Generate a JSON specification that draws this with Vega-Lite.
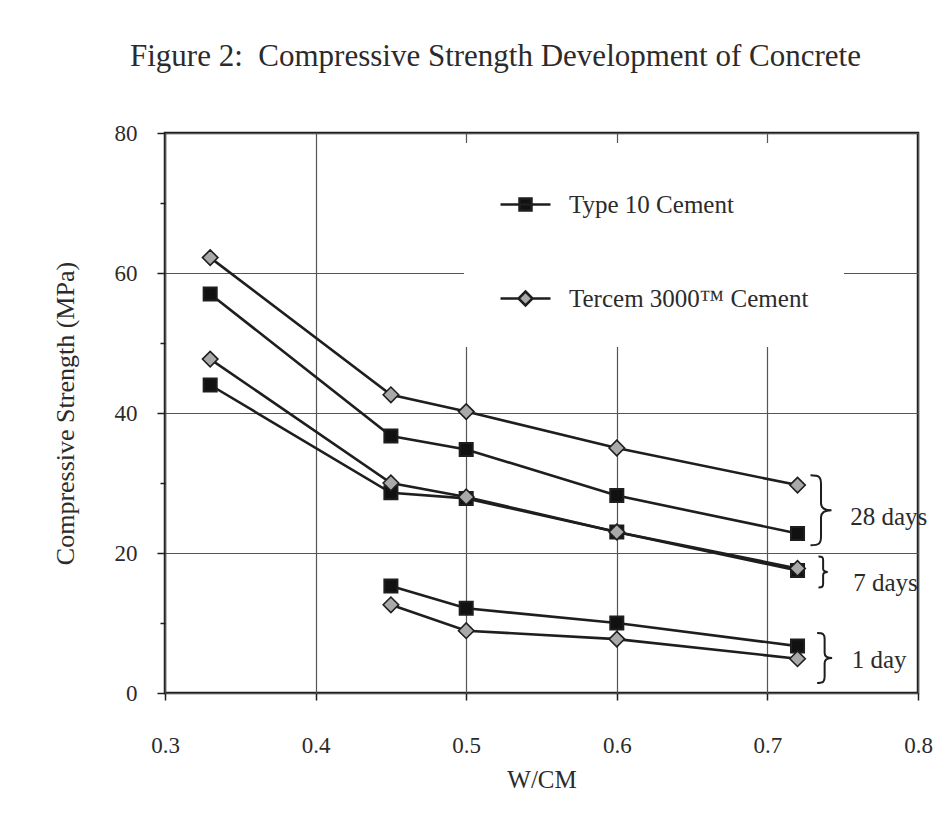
{
  "$schema": "https://vega.github.io/schema/vega-lite/v6.json",
  "width": 753,
  "height": 560,
  "autosize": {"type": "none"},
  "padding": {"left": 165, "top": 133, "right": 33, "bottom": 133},
  "background": "white",
  "title": {
    "text": "Figure 2:\u00a0 Compressive Strength Development of Concrete",
    "anchor": "start",
    "frame": "group",
    "dx": -35,
    "offset": 49,
    "fontSize": 31,
    "font": "Liberation Serif",
    "fontWeight": "normal",
    "color": "#2b2b2b"
  },
  "config": {
    "font": "Liberation Serif",
    "view": {"stroke": "#1e1e1e", "strokeWidth": 2.5},
    "axis": {
      "domain": false,
      "grid": true,
      "gridColor": "#555555",
      "gridWidth": 1.2,
      "tickColor": "#1e1e1e",
      "tickWidth": 1.5,
      "labelFont": "Liberation Serif",
      "labelFontSize": 23,
      "labelColor": "#2b2b2b",
      "titleFont": "Liberation Serif",
      "titleFontWeight": "normal",
      "titleColor": "#2b2b2b"
    },
    "legend": {
      "orient": "none",
      "fillColor": "white",
      "padding": 35,
      "labelFontSize": 25,
      "labelFont": "Liberation Serif",
      "labelColor": "#2b2b2b",
      "labelOffset": 17,
      "labelLimit": 500,
      "symbolSize": 2500,
      "symbolStrokeColor": "#1e1e1e",
      "symbolStrokeWidth": 2.5
    }
  },
  "resolve": {"scale": {"fill": "independent"}, "legend": {"fill": "independent"}},
  "datasets": {
    "strength": [
      {"wcm": 0.33, "mpa": 57.0, "cement": "Type 10 Cement", "age": "28 days"},
      {"wcm": 0.45, "mpa": 36.7, "cement": "Type 10 Cement", "age": "28 days"},
      {"wcm": 0.5, "mpa": 34.8, "cement": "Type 10 Cement", "age": "28 days"},
      {"wcm": 0.6, "mpa": 28.2, "cement": "Type 10 Cement", "age": "28 days"},
      {"wcm": 0.72, "mpa": 22.8, "cement": "Type 10 Cement", "age": "28 days"},
      {"wcm": 0.33, "mpa": 44.0, "cement": "Type 10 Cement", "age": "7 days"},
      {"wcm": 0.45, "mpa": 28.6, "cement": "Type 10 Cement", "age": "7 days"},
      {"wcm": 0.5, "mpa": 27.8, "cement": "Type 10 Cement", "age": "7 days"},
      {"wcm": 0.6, "mpa": 23.0, "cement": "Type 10 Cement", "age": "7 days"},
      {"wcm": 0.72, "mpa": 17.5, "cement": "Type 10 Cement", "age": "7 days"},
      {"wcm": 0.45, "mpa": 15.3, "cement": "Type 10 Cement", "age": "1 day"},
      {"wcm": 0.5, "mpa": 12.1, "cement": "Type 10 Cement", "age": "1 day"},
      {"wcm": 0.6, "mpa": 10.0, "cement": "Type 10 Cement", "age": "1 day"},
      {"wcm": 0.72, "mpa": 6.7, "cement": "Type 10 Cement", "age": "1 day"},
      {"wcm": 0.33, "mpa": 62.2, "cement": "Tercem 3000™ Cement", "age": "28 days"},
      {"wcm": 0.45, "mpa": 42.6, "cement": "Tercem 3000™ Cement", "age": "28 days"},
      {"wcm": 0.5, "mpa": 40.2, "cement": "Tercem 3000™ Cement", "age": "28 days"},
      {"wcm": 0.6, "mpa": 35.0, "cement": "Tercem 3000™ Cement", "age": "28 days"},
      {"wcm": 0.72, "mpa": 29.7, "cement": "Tercem 3000™ Cement", "age": "28 days"},
      {"wcm": 0.33, "mpa": 47.7, "cement": "Tercem 3000™ Cement", "age": "7 days"},
      {"wcm": 0.45, "mpa": 30.0, "cement": "Tercem 3000™ Cement", "age": "7 days"},
      {"wcm": 0.5, "mpa": 28.0, "cement": "Tercem 3000™ Cement", "age": "7 days"},
      {"wcm": 0.6, "mpa": 23.0, "cement": "Tercem 3000™ Cement", "age": "7 days"},
      {"wcm": 0.72, "mpa": 17.8, "cement": "Tercem 3000™ Cement", "age": "7 days"},
      {"wcm": 0.45, "mpa": 12.6, "cement": "Tercem 3000™ Cement", "age": "1 day"},
      {"wcm": 0.5, "mpa": 8.9, "cement": "Tercem 3000™ Cement", "age": "1 day"},
      {"wcm": 0.6, "mpa": 7.7, "cement": "Tercem 3000™ Cement", "age": "1 day"},
      {"wcm": 0.72, "mpa": 4.9, "cement": "Tercem 3000™ Cement", "age": "1 day"}
    ],
    "groups": [
      {"age": "28 days", "bx": 0.7356, "by": 26.1, "lx": 0.755, "ly": 25.1},
      {"age": "7 days", "bx": 0.737, "by": 17.3, "lx": 0.757, "ly": 15.7},
      {"age": "1 day", "bx": 0.738, "by": 5.0, "lx": 0.756, "ly": 4.7}
    ]
  },
  "layer": [
    {
      "data": {"name": "strength"},
      "mark": {"type": "line", "color": "#1e1e1e", "strokeWidth": 2.6},
      "encoding": {
        "x": {
          "field": "wcm", "type": "quantitative",
          "scale": {"domain": [0.3, 0.8], "nice": false, "zero": false},
          "axis": {
            "values": [0.3, 0.4, 0.5, 0.6, 0.7, 0.8],
            "format": ".1f",
            "title": "W/CM",
            "titleFontSize": 25,
            "labelFlush": false,
            "tickSize": 7,
            "labelPadding": 34,
            "titlePadding": 10
          }
        },
        "y": {
          "field": "mpa", "type": "quantitative",
          "scale": {"domain": [0, 80], "nice": false},
          "axis": {
            "values": [0, 10, 20, 30, 40, 50, 60, 70, 80],
            "labelExpr": "datum.value % 20 === 0 ? datum.label : ''",
            "gridOpacity": {"condition": {"test": "datum.value % 20 !== 0", "value": 0}, "value": 1},
            "tickSize": {"condition": {"test": "datum.value % 20 !== 0", "value": 5}, "value": 8},
            "title": "Compressive Strength (MPa)",
            "titleFontSize": 26,
            "labelPadding": 20,
            "titlePadding": 36
          }
        },
        "detail": [{"field": "cement"}, {"field": "age"}]
      }
    },
    {
      "data": {"name": "strength"},
      "transform": [{"filter": "datum.cement === 'Type 10 Cement'"}],
      "mark": {"type": "point", "shape": "square", "filled": true, "stroke": "#1e1e1e", "strokeWidth": 2, "size": 170, "opacity": 1},
      "encoding": {
        "x": {"field": "wcm", "type": "quantitative"},
        "y": {"field": "mpa", "type": "quantitative"},
        "fill": {
          "field": "cement", "type": "nominal",
          "scale": {"domain": ["Type 10 Cement"], "range": ["#111111"]},
          "legend": {
            "title": null,
            "legendX": 299, "legendY": 10,
            "labelExpr": "datum.label + '\u00a0\u00a0\u00a0\u00a0\u00a0\u00a0\u00a0\u00a0\u00a0\u00a0\u00a0\u00a0\u00a0\u00a0\u00a0\u00a0\u00a0\u00a0\u00a0\u00a0\u00a0'",
            "symbolType": "M-1,0H1M-0.24,-0.24H0.24V0.24H-0.24Z"
          }
        }
      }
    },
    {
      "data": {"name": "strength"},
      "transform": [{"filter": "datum.cement === 'Tercem 3000™ Cement'"}],
      "mark": {"type": "point", "shape": "diamond", "filled": true, "stroke": "#1e1e1e", "strokeWidth": 1.6, "size": 240, "opacity": 1},
      "encoding": {
        "x": {"field": "wcm", "type": "quantitative"},
        "y": {"field": "mpa", "type": "quantitative"},
        "fill": {
          "field": "cement", "type": "nominal",
          "scale": {"domain": ["Tercem 3000™ Cement"], "range": ["#a9a9a9"]},
          "legend": {
            "title": null,
            "legendX": 299, "legendY": 104,
            "labelExpr": "datum.label + '\u00a0\u00a0\u00a0\u00a0\u00a0\u00a0\u00a0\u00a0\u00a0'",
            "symbolType": "M-1,0H-0.28M0.28,0H1M0,-0.28L0.28,0L0,0.28L-0.28,0Z"
          }
        }
      }
    },
    {
      "data": {"name": "groups"},
      "transform": [{"filter": "datum.age === '28 days'"}],
      "mark": {"type": "point", "filled": false, "clip": false, "stroke": "#1e1e1e", "strokeWidth": 2, "opacity": 1,
        "shape": "M-0.3,-1C-0.05,-1 0,-0.95 0,-0.75L0,-0.2C0,-0.05 0.1,0 0.3,0C0.1,0 0,0.05 0,0.2L0,0.75C0,0.95 -0.05,1 -0.3,1",
        "size": 4900},
      "encoding": {
        "x": {"field": "bx", "type": "quantitative"},
        "y": {"field": "by", "type": "quantitative"}
      }
    },
    {
      "data": {"name": "groups"},
      "transform": [{"filter": "datum.age === '7 days'"}],
      "mark": {"type": "point", "filled": false, "clip": false, "stroke": "#1e1e1e", "strokeWidth": 2, "opacity": 1,
        "shape": "M-0.3,-1C-0.05,-1 0,-0.95 0,-0.75L0,-0.2C0,-0.05 0.1,0 0.3,0C0.1,0 0,0.05 0,0.2L0,0.75C0,0.95 -0.05,1 -0.3,1",
        "size": 961},
      "encoding": {
        "x": {"field": "bx", "type": "quantitative"},
        "y": {"field": "by", "type": "quantitative"}
      }
    },
    {
      "data": {"name": "groups"},
      "transform": [{"filter": "datum.age === '1 day'"}],
      "mark": {"type": "point", "filled": false, "clip": false, "stroke": "#1e1e1e", "strokeWidth": 2, "opacity": 1,
        "shape": "M-0.3,-1C-0.05,-1 0,-0.95 0,-0.75L0,-0.2C0,-0.05 0.1,0 0.3,0C0.1,0 0,0.05 0,0.2L0,0.75C0,0.95 -0.05,1 -0.3,1",
        "size": 2500},
      "encoding": {
        "x": {"field": "bx", "type": "quantitative"},
        "y": {"field": "by", "type": "quantitative"}
      }
    },
    {
      "data": {"name": "groups"},
      "mark": {"type": "text", "align": "left", "baseline": "middle", "clip": false, "fontSize": 25, "font": "Liberation Serif", "color": "#2b2b2b"},
      "encoding": {
        "x": {"field": "lx", "type": "quantitative"},
        "y": {"field": "ly", "type": "quantitative"},
        "text": {"field": "age"}
      }
    }
  ]
}
